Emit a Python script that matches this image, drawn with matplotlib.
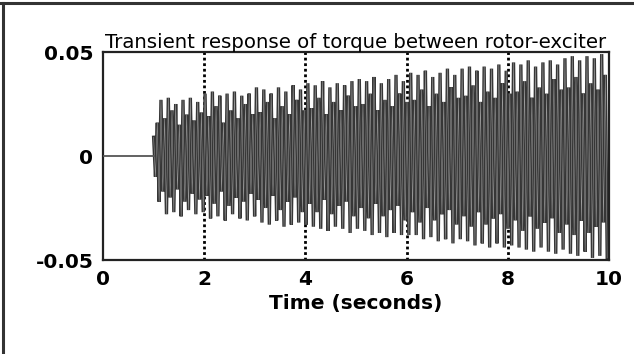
import numpy as np
import matplotlib
matplotlib.use("Agg")
import matplotlib.pyplot as plt
from matplotlib.lines import Line2D

plt.rcParams['font.family'] = ['DejaVu Sans']

# Du lieu doc tu hinh (don vi: 0.001)
t_start = 1.0
t_end = 10.0
peak_hi = [
    9, 16, 27, 18, 28, 22, 25, 15, 27, 20, 28, 17, 26, 21,
    30, 19, 31, 24, 29, 16, 30, 22, 31, 18, 29, 25, 30, 20,
    33, 21, 32, 26, 30, 18, 33, 24, 31, 20, 34, 27, 32, 22,
    35, 23, 34, 28, 36, 20, 33, 26, 35, 22, 34, 29, 36, 24,
    37, 25, 36, 30, 38, 22, 35, 27, 37, 24, 39, 30, 36, 26,
    40, 27, 39, 32, 41, 24, 38, 30, 40, 26, 42, 33, 39, 28,
    42, 29, 43, 34, 41, 26, 43, 31, 42, 28, 44, 35, 41, 30,
    45, 31, 44, 36, 46, 28, 43, 33, 45, 30, 46, 37, 44, 32,
    47, 33, 48, 38, 46, 30, 48, 35, 47, 32, 49, 39,
]
peak_lo = [
    10, 22, 17, 28, 20, 27, 16, 29, 22, 26, 18, 28, 21, 27,
    19, 30, 23, 29, 17, 31, 24, 28, 20, 30, 22, 31, 18, 29,
    21, 32, 25, 33, 19, 31, 26, 34, 22, 33, 20, 32, 27, 33,
    23, 34, 27, 35, 21, 36, 28, 34, 24, 35, 22, 37, 29, 35,
    25, 36, 30, 38, 23, 37, 29, 39, 26, 37, 24, 38, 31, 38,
    27, 38, 32, 40, 25, 39, 31, 41, 28, 40, 26, 42, 33, 40,
    29, 41, 34, 43, 27, 42, 33, 44, 30, 42, 28, 44, 35, 43,
    31, 44, 36, 45, 29, 46, 35, 44, 32, 46, 30, 47, 37, 45,
    33, 47, 38, 48, 31, 46, 37, 49, 34, 48, 32, 49,
]
grid_x = [2, 4, 6, 8]
x_ticks = [0, 2, 4, 6, 8, 10]
y_ticks = [-0.05, 0, 0.05]
y_tick_labels = ['-0.05', '0', '0.05']

# Ghep dinh tren / duoi thanh duong zigzag
n = len(peak_hi)
dt = (t_end - t_start) / n
t_hi = t_start + np.arange(n) * dt
t_lo = t_hi + dt / 2
t = np.empty(2 * n)
y = np.empty(2 * n)
t[0::2] = t_hi
t[1::2] = t_lo
y[0::2] = np.array(peak_hi) * 1e-3
y[1::2] = -np.array(peak_lo) * 1e-3

fig = plt.figure(figsize=(6.34, 3.54), dpi=100)
ax = fig.add_axes([0.1625, 0.2655, 0.7981, 0.5876])

for gx in grid_x:
    ax.axvline(gx, color='black', linestyle=(0, (1.0, 1.0)), lw=2.0, zorder=1)
ax.axhline(0, xmin=0.1, color='black', linestyle=(0, (1.0, 3.0)), lw=1.5, zorder=1)

ax.plot([0, t_start], [0, 0], color='#555555', lw=1.3, zorder=3)
ax.plot(t, y, color='#363636', lw=2.4, solid_joinstyle='miter', zorder=2)
ax.plot(t, y, color='#a0a0a0', lw=0.35, solid_joinstyle='miter', zorder=2.5)

ax.set_xlim(0, 10)
ax.set_ylim(-0.05, 0.05)
ax.set_xticks(x_ticks)
ax.set_xticklabels([str(v) for v in x_ticks])
ax.set_yticks(y_ticks)
ax.set_yticklabels(y_tick_labels)
ax.tick_params(length=0, labelsize=14.5, pad=7)
for lab in ax.get_xticklabels() + ax.get_yticklabels():
    lab.set_fontweight('bold')
for sp in ax.spines.values():
    sp.set_linewidth(1.6)
    sp.set_color('#222222')

ax.set_title('Transient response of torque between rotor-exciter', fontsize=14.2, pad=1)
ax.set_xlabel('Time (seconds)', fontsize=14.5, fontweight='bold', labelpad=4)

# Khung vien cua hinh (tren va trai)
fig.add_artist(Line2D([0, 1], [1 - 3 / 354, 1 - 3 / 354], color='#333333', lw=2.2))
fig.add_artist(Line2D([3 / 634, 3 / 634], [0, 1 - 3 / 354], color='#333333', lw=2.2))

fig.savefig('out.png', dpi=100)
